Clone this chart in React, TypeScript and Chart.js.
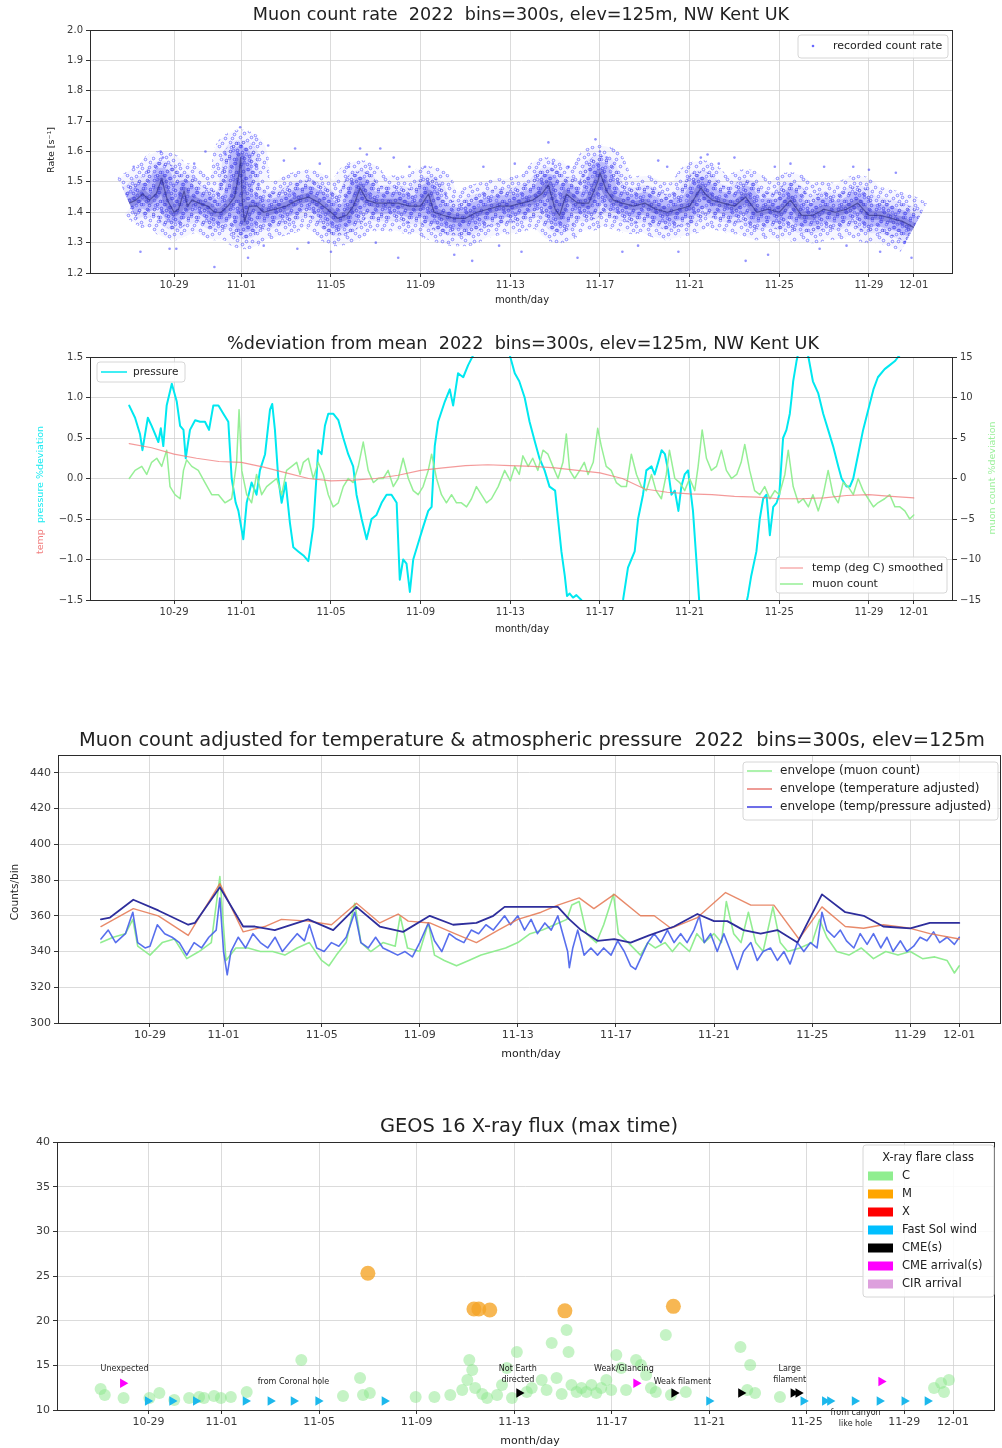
import React, { useEffect, useRef } from "react";
import { Chart, registerables } from "chart.js";

Chart.register(...registerables);

const FONT = "'DejaVu Sans', Verdana, sans-serif";
const TICK_COLOR = "#3a3a3a";
const GRID_COLOR = "#d2d2d2";

type Pair = [number, number];

// ---------- shared date axis (day 0 = 10-27 00:00) ----------
const DATE_TICK_DAYS = [2, 5, 9, 13, 17, 21, 25, 29, 33, 35];
const DATE_TICK_LABELS = ["10-29", "11-01", "11-05", "11-09", "11-13", "11-17", "11-21", "11-25", "11-29", "12-01"];

// ---------- value axes ----------
const RATE_TICKS = [1.2, 1.3, 1.4, 1.5, 1.6, 1.7, 1.8, 1.9, 2.0];
const RATE_LABELS = ["1.2", "1.3", "1.4", "1.5", "1.6", "1.7", "1.8", "1.9", "2.0"];
const DEV_TICKS = [-1.5, -1.0, -0.5, 0, 0.5, 1.0, 1.5];
const DEV_LABELS = ["\u22121.5", "\u22121.0", "\u22120.5", "0.0", "0.5", "1.0", "1.5"];
const DEV_R_TICKS = [-15, -10, -5, 0, 5, 10, 15];
const DEV_R_LABELS = ["\u221215", "\u221210", "\u22125", "0", "5", "10", "15"];
const COUNT_TICKS = [300, 320, 340, 360, 380, 400, 420, 440];
const COUNT_LABELS = ["300", "320", "340", "360", "380", "400", "420", "440"];
const FLUX_TICKS = [10, 15, 20, 25, 30, 35, 40];
const FLUX_LABELS = ["10", "15", "20", "25", "30", "35", "40"];

// ---------- panel 1: recorded count rate ----------
const RATE_CORE: Pair[] = [[0,1.43],[0.3,1.44],[0.6,1.46],[0.9,1.44],[1.2,1.46],[1.45,1.51],[1.7,1.44],[2.0,1.40],[2.2,1.41],[2.45,1.47],[2.6,1.42],[2.8,1.44],[3.1,1.43],[3.5,1.42],[3.8,1.40],[4.1,1.40],[4.4,1.42],[4.7,1.45],[4.9,1.53],[4.97,1.58],[5.05,1.43],[5.15,1.37],[5.35,1.42],[5.7,1.42],[6.0,1.40],[6.5,1.41],[7.0,1.42],[7.5,1.44],[8.0,1.45],[8.5,1.43],[9.0,1.40],[9.3,1.38],[9.7,1.39],[10.0,1.42],[10.3,1.48],[10.6,1.44],[11.0,1.43],[11.5,1.43],[12.0,1.43],[12.5,1.42],[13.0,1.42],[13.35,1.46],[13.6,1.40],[14.0,1.39],[14.5,1.38],[15.0,1.38],[15.5,1.40],[16.0,1.41],[16.5,1.42],[17.0,1.42],[17.5,1.43],[18.0,1.44],[18.4,1.46],[18.7,1.49],[19.0,1.41],[19.2,1.39],[19.5,1.46],[20.0,1.43],[20.5,1.43],[20.9,1.50],[21.0,1.53],[21.3,1.47],[21.6,1.44],[22.0,1.43],[22.5,1.42],[23.0,1.43],[23.5,1.41],[24.0,1.40],[24.5,1.41],[25.0,1.42],[25.5,1.48],[25.7,1.46],[26.0,1.44],[26.5,1.43],[27.0,1.42],[27.5,1.45],[28.0,1.40],[28.5,1.41],[29.0,1.40],[29.5,1.44],[30.0,1.39],[30.5,1.39],[31.0,1.41],[31.5,1.40],[32.0,1.41],[32.5,1.43],[33.0,1.39],[33.5,1.39],[34.0,1.38],[34.5,1.37],[35.0,1.35]];
const RATE_OUTLIERS: Pair[] = [[1.4,1.60],[1.5,1.58],[3.4,1.60],[4.3,1.59],[4.95,1.68],[5.0,1.62],[5.3,1.25],[6.2,1.62],[6.9,1.57],[7.4,1.61],[8.5,1.56],[10.3,1.61],[10.6,1.59],[11.2,1.61],[11.8,1.58],[12.5,1.55],[13.2,1.55],[3.8,1.22],[2.1,1.28],[0.5,1.27],[1.8,1.28],[7.5,1.28],[9.0,1.27],[12.0,1.25],[14.5,1.26],[15.3,1.24],[18.7,1.63],[18.9,1.56],[20.8,1.64],[21.0,1.60],[21.3,1.58],[23.6,1.57],[25.5,1.58],[25.8,1.59],[27.0,1.58],[29.5,1.56],[31.0,1.55],[32.3,1.55],[16.5,1.29],[17.5,1.27],[20.0,1.25],[22.0,1.27],[24.5,1.27],[27.5,1.24],[28.5,1.26],[30.8,1.28],[32.0,1.29],[33.5,1.27],[34.6,1.30],[34.9,1.25],[22.7,1.29],[11.0,1.30],[6.0,1.29],[8.0,1.30],[0.2,1.55],[2.9,1.56],[9.8,1.55],[15.8,1.55],[17.2,1.56],[19.6,1.55],[24.0,1.55],[26.3,1.56],[28.8,1.55],[33.0,1.54],[34.2,1.53]];

// ---------- panel 2: % deviation ----------
const PRESSURE_DEV: Pair[] = [[0.0,0.9],[0.26,0.75],[0.48,0.55],[0.59,0.35],[0.71,0.55],[0.83,0.75],[1.0,0.65],[1.15,0.55],[1.3,0.45],[1.41,0.62],[1.52,0.4],[1.67,0.9],[1.9,1.17],[2.12,0.95],[2.27,0.65],[2.42,0.6],[2.52,0.25],[2.71,0.6],[2.94,0.72],[3.16,0.7],[3.38,0.7],[3.56,0.6],[3.75,0.9],[3.98,0.9],[4.2,0.8],[4.42,0.7],[4.57,0.0],[4.75,-0.3],[4.87,-0.4],[5.09,-0.75],[5.24,-0.3],[5.46,-0.05],[5.68,-0.2],[5.83,0.1],[6.06,0.3],[6.28,0.85],[6.38,0.92],[6.5,0.6],[6.65,0.0],[6.8,-0.3],[6.98,-0.05],[7.17,-0.55],[7.32,-0.85],[7.54,-0.9],[7.77,-0.95],[7.99,-1.02],[8.21,-0.6],[8.43,0.35],[8.58,0.3],[8.73,0.65],[8.88,0.8],[9.1,0.8],[9.33,0.72],[9.55,0.5],[9.77,0.3],[9.99,0.15],[10.14,-0.2],[10.37,-0.5],[10.59,-0.75],[10.81,-0.5],[11.03,-0.45],[11.26,-0.3],[11.48,-0.2],[11.7,-0.2],[11.93,-0.3],[12.07,-1.25],[12.22,-1.0],[12.37,-1.05],[12.52,-1.4],[12.67,-1.0],[12.89,-0.8],[13.11,-0.6],[13.34,-0.4],[13.49,-0.35],[13.63,0.4],[13.78,0.7],[14.08,0.95],[14.3,1.1],[14.45,0.9],[14.67,1.3],[14.9,1.25],[15.12,1.4],[15.34,1.52],[16.0,1.8],[16.6,1.8],[17.0,1.5],[17.2,1.3],[17.4,1.2],[17.64,1.0],[17.86,0.7],[18.1,0.45],[18.3,0.25],[18.53,0.1],[18.75,-0.1],[19.0,-0.15],[19.13,-0.5],[19.28,-0.9],[19.43,-1.2],[19.53,-1.45],[19.65,-1.42],[19.8,-1.47],[19.95,-1.44],[20.17,-1.5],[20.4,-1.8],[21.0,-2.2],[21.6,-1.9],[22.03,-1.5],[22.25,-1.1],[22.4,-1.0],[22.55,-0.9],[22.7,-0.5],[22.92,-0.2],[23.07,0.1],[23.3,0.15],[23.44,0.05],[23.6,0.2],[23.75,0.35],[23.9,0.3],[24.04,0.1],[24.19,-0.2],[24.34,-0.15],[24.5,-0.4],[24.63,-0.1],[24.78,0.05],[24.93,0.1],[25.15,-0.4],[25.3,-1.0],[25.45,-1.6],[26.0,-2.3],[27.0,-2.2],[27.6,-1.45],[27.75,-1.2],[27.98,-0.9],[28.13,-0.5],[28.28,-0.25],[28.43,-0.2],[28.58,-0.7],[28.73,-0.35],[28.88,-0.3],[29.0,-0.2],[29.17,0.5],[29.32,0.6],[29.47,0.8],[29.55,1.0],[29.62,1.2],[29.77,1.45],[29.85,1.55],[30.05,1.7],[30.3,1.5],[30.5,1.2],[30.74,1.05],[30.96,0.8],[31.18,0.6],[31.4,0.4],[31.63,0.15],[31.78,0.0],[32.0,-0.1],[32.15,-0.1],[32.3,0.0],[32.52,0.3],[32.74,0.6],[32.97,0.85],[33.2,1.1],[33.4,1.25],[33.7,1.35],[33.93,1.4],[34.16,1.45],[34.3,1.5],[35.0,1.7]];
const TEMP_SMOOTHED: Pair[] = [[0,4.3],[1,3.8],[2,3.0],[3,2.5],[4,2.1],[5,2.0],[6,1.4],[7,0.7],[8,0.0],[9,-0.3],[10,-0.2],[11,0.0],[12,0.4],[13,1.0],[14,1.3],[15,1.6],[16,1.7],[17,1.6],[18,1.5],[19,1.3],[20,1.0],[21,0.7],[22,0.0],[23,-1.3],[24,-1.7],[25,-1.9],[26,-2.0],[27,-2.2],[28,-2.3],[29,-2.5],[30,-2.5],[31,-2.4],[32,-2.1],[33,-2.0],[34,-2.2],[35,-2.4]];
const MUON_DEV: Pair[] = [[0.0,0.0],[0.26,1.0],[0.56,1.5],[0.78,0.5],[1.0,2.0],[1.23,2.5],[1.45,1.5],[1.67,3.5],[1.82,-1.0],[2.04,-2.0],[2.27,-2.5],[2.42,1.0],[2.56,2.3],[2.79,1.5],[3.08,1.0],[3.38,-0.5],[3.68,-2.0],[3.98,-2.0],[4.27,-3.0],[4.57,-2.5],[4.79,2.0],[4.9,8.5],[5.02,1.0],[5.24,-2.0],[5.46,-3.0],[5.68,0.5],[5.91,-2.0],[6.13,-1.0],[6.35,-0.5],[6.58,0.0],[6.8,-2.0],[7.02,1.0],[7.25,1.5],[7.47,2.0],[7.62,0.5],[7.77,2.0],[7.99,2.5],[8.21,0.0],[8.43,2.0],[8.66,0.5],[8.88,-2.0],[9.1,-3.5],[9.33,-3.0],[9.55,-1.0],[9.77,0.0],[9.99,-0.5],[10.22,1.5],[10.44,4.5],[10.66,1.0],[10.89,-0.5],[11.11,0.0],[11.33,0.0],[11.55,1.0],[11.78,-1.0],[12.0,0.0],[12.22,2.5],[12.45,0.0],[12.67,-1.5],[12.89,-2.0],[13.11,-1.0],[13.34,1.0],[13.49,3.0],[13.71,0.0],[13.93,-2.0],[14.15,-3.0],[14.38,-2.0],[14.6,-3.0],[14.82,-3.0],[15.05,-3.5],[15.27,-2.5],[15.49,-1.0],[15.71,-2.0],[15.94,-3.0],[16.16,-2.5],[16.46,-1.0],[16.75,1.0],[17.0,-0.3],[17.2,1.5],[17.4,0.5],[17.56,2.8],[17.8,1.5],[18.0,2.5],[18.23,1.0],[18.46,3.5],[18.68,3.0],[18.9,1.5],[19.13,0.0],[19.35,2.0],[19.5,5.5],[19.65,1.0],[19.87,0.0],[20.1,1.0],[20.3,2.0],[20.47,0.5],[20.7,2.0],[20.9,6.2],[21.06,4.0],[21.28,1.5],[21.5,1.0],[21.73,-0.5],[21.96,-1.0],[22.18,-1.0],[22.4,3.0],[22.63,0.5],[22.85,-1.0],[23.07,-1.5],[23.3,0.5],[23.5,-1.5],[23.74,-2.5],[23.96,0.5],[24.1,3.5],[24.34,0.0],[24.56,-0.5],[24.78,-1.5],[25.0,0.0],[25.23,-1.5],[25.38,1.5],[25.56,6.0],[25.75,2.5],[25.97,1.0],[26.2,1.5],[26.42,3.5],[26.64,1.0],[26.87,0.0],[27.1,0.5],[27.3,2.0],[27.46,4.2],[27.68,1.0],[27.9,-1.5],[28.13,-2.0],[28.35,-1.0],[28.58,-2.5],[28.8,-1.5],[29.0,-2.0],[29.25,0.5],[29.4,3.5],[29.62,-1.0],[29.85,-3.0],[30.07,-2.5],[30.3,-3.5],[30.5,-2.0],[30.74,-4.0],[30.96,-2.0],[31.18,1.0],[31.4,-2.0],[31.63,-3.0],[31.85,-0.5],[32.07,-1.0],[32.3,-2.0],[32.52,0.0],[32.74,-1.5],[32.97,-2.5],[33.2,-3.5],[33.4,-3.0],[33.7,-2.5],[33.93,-2.0],[34.16,-3.5],[34.38,-3.5],[34.6,-4.0],[34.82,-5.0],[35.0,-4.5]];

// ---------- panel 3: adjusted counts ----------
const MUON_COUNTS: Pair[] = [[0,345],[0.5,348],[1.0,350],[1.3,358],[1.5,343],[2.0,338],[2.5,345],[3.0,347],[3.5,336],[4.0,340],[4.5,345],[4.85,382],[5.1,335],[5.5,342],[6.0,342],[6.5,340],[7.0,340],[7.5,338],[8.0,342],[8.5,345],[9.0,335],[9.3,332],[9.6,338],[10.0,345],[10.35,367],[10.6,345],[11.0,340],[11.5,345],[12.0,343],[12.2,360],[12.5,342],[13.0,340],[13.35,356],[13.6,338],[14.0,335],[14.5,332],[15.0,335],[15.5,338],[16.0,340],[16.5,342],[17.0,345],[17.5,350],[18.0,352],[18.5,355],[19.0,358],[19.2,366],[19.5,368],[19.8,350],[20.2,345],[20.5,355],[20.9,372],[21.1,350],[21.5,345],[22.0,338],[22.3,345],[22.6,342],[23.0,345],[23.3,340],[23.6,345],[24.0,340],[24.3,350],[24.6,345],[25.0,350],[25.3,345],[25.5,368],[25.8,350],[26.1,345],[26.4,362],[26.7,345],[27.0,340],[27.4,365],[27.7,345],[28.0,340],[28.5,342],[29.0,345],[29.3,358],[29.6,348],[30.0,340],[30.5,338],[31.0,342],[31.5,336],[32.0,340],[32.5,338],[33.0,340],[33.5,336],[34.0,337],[34.5,335],[34.8,328],[35.0,332]];
const TP_ADJUSTED: Pair[] = [[0,347],[0.3,352],[0.6,345],[1.0,350],[1.3,362],[1.5,345],[1.8,342],[2.0,343],[2.3,355],[2.6,350],[2.9,348],[3.2,345],[3.5,338],[3.8,345],[4.1,342],[4.4,348],[4.7,352],[4.85,370],[5.0,340],[5.15,327],[5.3,340],[5.6,348],[5.9,342],[6.2,350],[6.5,345],[6.8,342],[7.1,348],[7.4,340],[7.7,345],[8.0,350],[8.3,346],[8.5,355],[8.8,342],[9.1,340],[9.4,345],[9.7,343],[10.0,348],[10.35,362],[10.6,345],[10.9,342],[11.2,348],[11.5,342],[11.8,340],[12.1,338],[12.4,340],[12.7,337],[13.0,345],[13.35,356],[13.6,346],[13.9,340],[14.2,350],[14.5,347],[14.8,345],[15.1,352],[15.4,350],[15.7,355],[16.0,352],[16.46,360],[16.7,355],[17.0,360],[17.27,352],[17.54,358],[17.8,350],[18.1,356],[18.36,352],[18.63,360],[18.83,350],[19.03,340],[19.1,331],[19.24,342],[19.44,352],[19.58,345],[19.7,338],[19.98,342],[20.25,338],[20.5,342],[20.8,338],[21.07,346],[21.34,340],[21.6,332],[21.8,330],[22.0,336],[22.3,345],[22.56,350],[22.83,345],[23.1,352],[23.37,345],[23.64,350],[23.9,345],[24.18,352],[24.4,360],[24.6,345],[24.86,350],[25.13,340],[25.4,350],[25.68,340],[25.95,330],[26.2,340],[26.5,345],[26.76,335],[27.0,340],[27.3,342],[27.58,335],[27.85,340],[28.1,333],[28.4,345],[28.66,340],[28.93,345],[29.2,342],[29.4,362],[29.6,352],[29.9,348],[30.15,352],[30.4,346],[30.7,342],[30.96,350],[31.24,344],[31.5,350],[31.8,342],[32.05,348],[32.3,340],[32.6,346],[32.86,340],[33.14,343],[33.4,348],[33.68,346],[33.95,351],[34.2,345],[34.5,348],[34.8,344],[35.0,348]];
const ENVELOPE_TEMP: Pair[] = [[0,354],[1.32,364],[2.34,360],[3.56,349],[4.85,378],[5.8,351],[6.68,354],[7.36,358],[8.45,357],[9.4,355],[10.42,367],[11.37,356],[12.12,361],[12.53,357],[13.41,356],[14.43,350],[15.31,345],[16.2,352],[17.0,358],[17.95,362],[18.63,366],[19.5,370],[20.1,364],[20.93,372],[22.0,360],[22.56,360],[23.24,353],[24.32,359],[25.47,373],[26.5,366],[27.44,366],[28.46,347],[29.4,365],[30.35,354],[31.1,353],[31.9,355],[33.0,353],[33.8,350],[35.0,347]];
const ENVELOPE_TP: Pair[] = [[0,358],[0.37,359],[1.32,369],[2.34,363],[3.56,355],[3.83,356],[4.85,376],[5.8,354],[6.28,354],[7.09,352],[8.45,358],[9.47,352],[10.42,365],[11.37,354],[12.32,351],[13.41,360],[14.36,355],[15.31,356],[16.0,360],[16.46,365],[17.0,365],[17.54,365],[18.63,365],[19.1,358],[19.58,352],[20.25,346],[20.93,347],[21.6,345],[22.35,349],[23.37,354],[24.32,361],[25.0,357],[25.54,357],[26.2,352],[26.9,350],[27.58,352],[28.4,345],[29.4,372],[30.35,362],[31.1,360],[31.9,354],[33.0,353],[33.8,356],[35.0,356]];

// ---------- panel 4: GOES X-ray flux and solar events ----------
const C_FLARES: Pair[] = [[0.04,12.35],[0.21,11.68],[0.98,11.34],[2.04,11.34],[2.45,11.9],[3.06,11.12],[3.67,11.34],[4.08,11.46],[4.28,11.34],[4.69,11.57],[4.97,11.34],[5.38,11.46],[6.03,12.02],[8.27,15.6],[9.98,11.57],[10.68,13.58],[10.8,11.68],[11.08,11.9],[12.96,11.46],[13.73,11.46],[14.38,11.68],[14.87,12.24],[15.08,13.36],[15.16,15.6],[15.28,14.48],[15.4,12.46],[15.69,11.79],[15.89,11.34],[16.3,11.68],[16.5,12.8],[16.7,14.7],[16.91,11.34],[17.11,16.5],[17.52,12.02],[17.72,12.46],[18.13,13.36],[18.33,12.24],[18.54,17.5],[18.74,13.58],[18.95,11.79],[19.15,18.96],[19.23,16.5],[19.35,12.8],[19.56,12.02],[19.76,12.46],[19.96,12.02],[20.17,12.8],[20.37,11.9],[20.57,12.46],[20.78,13.36],[20.98,12.24],[21.19,16.16],[21.39,14.7],[21.59,12.24],[22.0,15.6],[22.2,15.04],[22.41,13.92],[22.61,12.46],[22.81,12.02],[23.22,18.4],[23.43,11.68],[24.04,12.02],[26.28,17.05],[26.68,15.04],[26.56,12.24],[26.88,11.9],[27.9,11.46],[34.22,12.46],[34.51,13.02],[34.63,12.02],[34.83,13.36]];
const M_FLARES: Pair[] = [[11.0,25.3],[15.35,21.3],[15.55,21.3],[16.0,21.2],[19.08,21.1],[23.53,21.6]];
const FAST_WIND: Pair[] = [[1.97,11.0],[2.97,11.0],[3.94,11.0],[5.98,11.0],[7.0,11.0],[7.95,11.0],[8.96,11.0],[11.68,11.0],[24.99,11.0],[28.86,11.0],[29.74,11.0],[29.95,11.0],[30.96,11.0],[31.98,11.0],[33.0,11.0],[33.95,11.0]];
const CMES: Pair[] = [[17.2,11.9],[23.56,11.9],[26.3,11.9],[28.45,11.9],[28.65,11.9]];
const CME_ARRIVALS: Pair[] = [[0.95,13.0],[22.0,13.0],[32.05,13.2]];
const EVENT_NOTES: { day: number; val: number; text: string }[] = [
  { day: 1.02, val: 14.6, text: "Unexpected" },
  { day: 7.95, val: 13.1, text: "from Coronal hole" },
  { day: 17.15, val: 14.6, text: "Not Earth" },
  { day: 17.15, val: 13.4, text: "directed" },
  { day: 21.5, val: 14.6, text: "Weak/Glancing" },
  { day: 23.9, val: 13.1, text: "Weak filament" },
  { day: 28.3, val: 14.6, text: "Large" },
  { day: 28.3, val: 13.4, text: "filament" },
  { day: 31.0, val: 9.62, text: "from canyon" },
  { day: 31.0, val: 8.45, text: "like hole" },
];

// speckle texture tile for the scatter cloud (style only)
const SPECKLE_TILE: Pair[] = [[3,2],[17,4],[29,1],[9,8],[24,9],[34,7],[1,13],[14,12],[21,15],[31,14],[6,18],[27,19],[12,21],[35,22],[19,24],[2,26],[25,27],[10,27],[32,27],[16,17],[5,5],[22,2],[28,23],[8,14],[36,17],[13,1],[18,9],[30,10],[4,22],[23,21]];

// ---------- helpers ----------
const pts = (a: Pair[]) => a.map(([x, y]) => ({ x, y }));

function speckle(dots: Pair[], color: string, flip: boolean): any {
  const c = document.createElement("canvas");
  c.width = 38;
  c.height = 29;
  const g = c.getContext("2d") as CanvasRenderingContext2D;
  g.strokeStyle = color;
  g.lineWidth = 0.9;
  for (const [x, y] of dots) {
    const px = flip ? 37 - x : x;
    const py = flip ? 28 - y : y;
    g.beginPath();
    g.arc(px + 0.5, py + 0.5, 1.3, 0, Math.PI * 2);
    g.stroke();
  }
  return g.createPattern(c, "repeat");
}

function dateAxis(min: number, max: number, height: number, size: number): any {
  return {
    type: "linear", position: "bottom", min, max,
    afterBuildTicks: (s: any) => { s.ticks = DATE_TICK_DAYS.map((v) => ({ value: v })); },
    afterFit: (s: any) => { s.height = height; },
    ticks: { autoSkip: false, maxRotation: 0, minRotation: 0, padding: 2, color: TICK_COLOR, font: { family: FONT, size }, callback: (_v: any, i: number) => DATE_TICK_LABELS[i] },
    grid: { color: GRID_COLOR, lineWidth: 0.8, tickLength: 4, tickColor: "#333", tickWidth: 1 },
    border: { display: false },
  };
}

function valueAxis(position: string, min: number, max: number, values: number[], labels: string[], width: number, size: number, grid: boolean): any {
  return {
    type: "linear", position, min, max,
    afterBuildTicks: (s: any) => { s.ticks = values.map((v) => ({ value: v })); },
    afterFit: (s: any) => { s.width = width; },
    ticks: { autoSkip: false, padding: 3, color: TICK_COLOR, font: { family: FONT, size }, callback: (_v: any, i: number) => labels[i] },
    grid: { drawOnChartArea: grid, color: GRID_COLOR, lineWidth: 0.8, tickLength: 4, tickColor: "#333", tickWidth: 1 },
    border: { display: false },
  };
}

type Txt = { t: string; x: number; y: number; size: number; color?: string; align?: CanvasTextAlign; rot?: boolean };

function decor(id: string, texts: Txt[], extra?: (chart: any) => void) {
  return {
    id,
    afterDraw(chart: any) {
      const { ctx, chartArea: a } = chart;
      ctx.save();
      ctx.strokeStyle = "#2b2b2b";
      ctx.lineWidth = 1;
      ctx.strokeRect(Math.round(a.left) + 0.5, Math.round(a.top) + 0.5, Math.round(a.right - a.left) - 1, Math.round(a.bottom - a.top));
      ctx.textBaseline = "middle";
      for (const it of texts) {
        ctx.font = `${it.size}px ${FONT}`;
        ctx.fillStyle = it.color || "#222";
        ctx.textAlign = it.align || "center";
        if (it.rot) {
          ctx.save();
          ctx.translate(it.x, it.y);
          ctx.rotate(-Math.PI / 2);
          ctx.fillText(it.t, 0, 0);
          ctx.restore();
        } else ctx.fillText(it.t, it.x, it.y);
      }
      if (extra) extra(chart);
      ctx.restore();
    },
  };
}

type LegItem = { label: string; kind: "line" | "dot" | "patch"; color: string; y: number; lw?: number };
function drawLegend(ctx: CanvasRenderingContext2D, box: { x: number; y: number; w: number; h: number }, items: LegItem[], symX: number, symW: number, textX: number, size: number, title?: { t: string; x: number; y: number }) {
  ctx.save();
  ctx.beginPath();
  const r = 3;
  const { x, y, w, h } = box;
  ctx.moveTo(x + r, y);
  ctx.arcTo(x + w, y, x + w, y + h, r);
  ctx.arcTo(x + w, y + h, x, y + h, r);
  ctx.arcTo(x, y + h, x, y, r);
  ctx.arcTo(x, y, x + w, y, r);
  ctx.closePath();
  ctx.fillStyle = "rgba(255,255,255,0.85)";
  ctx.fill();
  ctx.strokeStyle = "#d6d6d6";
  ctx.lineWidth = 1;
  ctx.stroke();
  ctx.font = `${size}px ${FONT}`;
  ctx.textBaseline = "middle";
  if (title) {
    ctx.fillStyle = "#222";
    ctx.textAlign = "center";
    ctx.fillText(title.t, title.x, title.y);
  }
  for (const it of items) {
    if (it.kind === "line") {
      ctx.strokeStyle = it.color;
      ctx.lineWidth = it.lw || 1.5;
      ctx.beginPath();
      ctx.moveTo(symX, it.y);
      ctx.lineTo(symX + symW, it.y);
      ctx.stroke();
    } else if (it.kind === "dot") {
      ctx.fillStyle = it.color;
      ctx.beginPath();
      ctx.arc(symX + symW / 2, it.y, 1.3, 0, Math.PI * 2);
      ctx.fill();
    } else {
      ctx.fillStyle = it.color;
      ctx.fillRect(symX, it.y - 4.5, symW, 9);
    }
    ctx.fillStyle = "#222";
    ctx.textAlign = "left";
    ctx.fillText(it.label, textX, it.y);
  }
  ctx.restore();
}

const baseOptions = (padding: any, scales: any): any => ({
  animation: false,
  responsive: false,
  devicePixelRatio: 1,
  events: [],
  layout: { padding },
  plugins: { legend: { display: false }, tooltip: { enabled: false }, title: { display: false } },
  scales,
});

const lineDs = (data: Pair[], color: any, width: number, extra: any = {}) => ({
  data: pts(data), showLine: true, borderColor: color, backgroundColor: color, borderWidth: width,
  pointRadius: 0, borderJoinStyle: "round", borderCapStyle: "round", clip: 0, ...extra,
});

// ---------- panel configs ----------
function panel1(): any {
  const outer = speckle(SPECKLE_TILE, "rgba(70,70,255,0.65)", false);
  const mid = speckle(SPECKLE_TILE, "rgba(50,50,225,0.8)", true);
  const butt = { borderCapStyle: "butt" };
  return {
    type: "scatter",
    data: {
      datasets: [
        { data: pts(RATE_OUTLIERS), pointRadius: 1.3, pointBorderWidth: 0, pointBackgroundColor: "rgba(40,40,255,0.5)", showLine: false },
        lineDs(RATE_CORE, "rgba(40,40,120,0.6)", 1.2, butt),
        lineDs(RATE_CORE, "rgba(55,55,190,0.35)", 9, butt),
        lineDs(RATE_CORE, "rgba(80,80,240,0.28)", 22, butt),
        lineDs(RATE_CORE, mid, 34, butt),
        lineDs(RATE_CORE, "rgba(110,110,255,0.12)", 36, butt),
        lineDs(RATE_CORE, outer, 56, butt),
        lineDs(RATE_CORE, "rgba(130,130,255,0.07)", 54, butt),
      ],
    },
    options: baseOptions({ top: 30, left: 0, right: 49, bottom: 17 }, {
      x: dateAxis(-1.75, 36.75, 30, 10),
      y: valueAxis("left", 1.2, 2.0, RATE_TICKS, RATE_LABELS, 90, 10, true),
    }),
    plugins: [decor("d1", [
      { t: "Muon count rate  2022  bins=300s, elev=125m, NW Kent UK", x: 521, y: 15, size: 17.6 },
      { t: "Rate [s\u207B\u00B9]", x: 52, y: 150, size: 9.5, rot: true },
      { t: "month/day", x: 522, y: 300, size: 10 },
    ], (chart) => {
      drawLegend(chart.ctx, { x: 798, y: 35, w: 150, h: 23 }, [
        { label: "recorded count rate", kind: "dot", color: "rgba(40,40,255,0.7)", y: 46 },
      ], 806, 14, 833, 11);
    })],
  };
}

function panel2(): any {
  return {
    type: "scatter",
    data: {
      datasets: [
        lineDs(TEMP_SMOOTHED, "rgba(240,120,120,0.75)", 1.2, { yAxisID: "y2" }),
        lineDs(MUON_DEV, "rgba(144,238,144,0.95)", 1.5, { yAxisID: "y2" }),
        lineDs(PRESSURE_DEV, "#00e8f0", 2, { yAxisID: "y", clip: 1 }),
      ],
    },
    options: baseOptions({ top: 29, left: 0, right: 0, bottom: 12 }, {
      x: dateAxis(-1.75, 36.75, 28, 10),
      y: valueAxis("left", -1.5, 1.5, DEV_TICKS, DEV_LABELS, 90, 10, true),
      y2: valueAxis("right", -15, 15, DEV_R_TICKS, DEV_R_LABELS, 49, 10, false),
    }),
    plugins: [decor("d2", [
      { t: "%deviation from mean  2022  bins=300s, elev=125m, NW Kent UK", x: 523, y: 16, size: 17.6 },
      { t: "muon count %deviation", x: 993, y: 150, size: 9.5, color: "rgba(144,238,144,0.9)", rot: true },
      { t: "month/day", x: 522, y: 301, size: 10 },
    ], (chart) => {
      const ctx = chart.ctx;
      ctx.save();
      ctx.translate(41, 226);
      ctx.rotate(-Math.PI / 2);
      ctx.font = `9.5px ${FONT}`;
      ctx.textAlign = "left";
      ctx.textBaseline = "middle";
      ctx.fillStyle = "rgba(240,110,110,0.9)";
      ctx.fillText("temp", 0, 0);
      ctx.fillStyle = "rgba(0,232,240,0.9)";
      ctx.fillText("pressure %deviation", ctx.measureText("temp  ").width, 0);
      ctx.restore();
      drawLegend(ctx, { x: 97, y: 34, w: 88, h: 20 }, [
        { label: "pressure", kind: "line", color: "#00e8f0", y: 44 },
      ], 101, 26, 133, 10.5);
      drawLegend(ctx, { x: 776, y: 229, w: 171, h: 36 }, [
        { label: "temp (deg C) smoothed", kind: "line", color: "rgba(240,120,120,0.75)", y: 240, lw: 1.2 },
        { label: "muon count", kind: "line", color: "rgba(144,238,144,0.95)", y: 256 },
      ], 780, 23, 812, 11);
    })],
  };
}

function panel3(): any {
  return {
    type: "scatter",
    data: {
      datasets: [
        lineDs(ENVELOPE_TP, "#2e2e9c", 1.8),
        lineDs(ENVELOPE_TEMP, "rgba(228,118,80,0.85)", 1.4),
        lineDs(TP_ADJUSTED, "rgba(70,95,235,0.9)", 1.6),
        lineDs(MUON_COUNTS, "rgba(140,236,140,0.95)", 1.6),
      ],
    },
    options: baseOptions({ top: 30, left: 0, right: 1, bottom: 14 }, {
      x: dateAxis(-1.75, 36.7, 28, 11),
      y: valueAxis("left", 300, 450, COUNT_TICKS, COUNT_LABELS, 58, 11, true),
    }),
    plugins: [decor("d3", [
      { t: "Muon count adjusted for temperature & atmospheric pressure  2022  bins=300s, elev=125m", x: 532, y: 16, size: 19.4 },
      { t: "Counts/bin", x: 15, y: 167, size: 10.5, rot: true },
      { t: "month/day", x: 531, y: 329, size: 11 },
    ], (chart) => {
      drawLegend(chart.ctx, { x: 743, y: 37, w: 255, h: 58 }, [
        { label: "envelope (muon count)", kind: "line", color: "rgba(140,236,140,0.95)", y: 46 },
        { label: "envelope (temperature adjusted)", kind: "line", color: "rgba(228,100,90,0.85)", y: 64 },
        { label: "envelope (temp/pressure adjusted)", kind: "line", color: "#3c3ce0", y: 82 },
      ], 747, 25, 780, 12);
    })],
  };
}

function panel4(): any {
  const tri = (data: Pair[], color: string) => ({
    data: pts(data), showLine: false, pointStyle: "triangle", rotation: 90, pointRadius: 5.5,
    pointBackgroundColor: color, pointBorderColor: color, pointBorderWidth: 0, clip: false,
  });
  return {
    type: "scatter",
    data: {
      datasets: [
        tri(CMES, "#000000"),
        tri(CME_ARRIVALS, "#ff00ff"),
        tri(FAST_WIND, "#1cb8ec"),
        { data: pts(M_FLARES), showLine: false, pointRadius: 7.5, pointBorderWidth: 0, pointBackgroundColor: "rgba(245,165,40,0.8)" },
        { data: pts(C_FLARES), showLine: false, pointRadius: 6, pointBorderWidth: 0, pointBackgroundColor: "rgba(140,232,140,0.5)" },
      ],
    },
    options: baseOptions({ top: 34, left: 0, right: 1, bottom: 10 }, {
      x: dateAxis(-1.75, 36.7, 28, 11),
      y: valueAxis("left", 10, 40, FLUX_TICKS, FLUX_LABELS, 57, 11, true),
    }),
    plugins: [decor("d4", [
      { t: "GEOS 16 X-ray flux (max time)", x: 529, y: 19, size: 19.4 },
      { t: "month/day", x: 530, y: 333, size: 11 },
    ], (chart) => {
      const ctx = chart.ctx;
      const xs = chart.scales.x;
      const ys = chart.scales.y;
      ctx.save();
      ctx.font = `8px ${FONT}`;
      ctx.fillStyle = "#222";
      ctx.textAlign = "center";
      ctx.textBaseline = "middle";
      for (const n of EVENT_NOTES) ctx.fillText(n.text, xs.getPixelForValue(n.day), ys.getPixelForValue(n.val));
      ctx.restore();
      drawLegend(ctx, { x: 863, y: 37, w: 131, h: 152 }, [
        { label: "C", kind: "patch", color: "#90ee90", y: 68 },
        { label: "M", kind: "patch", color: "#ffa500", y: 86 },
        { label: "X", kind: "patch", color: "#ff0000", y: 104 },
        { label: "Fast Sol wind", kind: "patch", color: "#00bfff", y: 122 },
        { label: "CME(s)", kind: "patch", color: "#000000", y: 140 },
        { label: "CME arrival(s)", kind: "patch", color: "#ff00ff", y: 158 },
        { label: "CIR arrival", kind: "patch", color: "#dda0dd", y: 176 },
      ], 868, 25, 902, 11.5, { t: "X-ray flare class", x: 928, y: 50 });
    })],
  };
}

export default function App() {
  const r1 = useRef<HTMLCanvasElement>(null);
  const r2 = useRef<HTMLCanvasElement>(null);
  const r3 = useRef<HTMLCanvasElement>(null);
  const r4 = useRef<HTMLCanvasElement>(null);

  useEffect(() => {
    const charts = [
      new Chart(r1.current as HTMLCanvasElement, panel1()),
      new Chart(r2.current as HTMLCanvasElement, panel2()),
      new Chart(r3.current as HTMLCanvasElement, panel3()),
      new Chart(r4.current as HTMLCanvasElement, panel4()),
    ];
    return () => charts.forEach((c) => c.destroy());
  }, []);

  const cs = (top: number, h: number): React.CSSProperties => ({ position: "absolute", left: 0, top, width: 1002, height: h });
  return (
    <div style={{ position: "absolute", left: 0, top: 0, width: 1002, height: 1448, background: "#fff", overflow: "hidden" }}>
      <canvas ref={r1} width={1002} height={320} style={cs(0, 320)} />
      <canvas ref={r2} width={1002} height={312} style={cs(328, 312)} />
      <canvas ref={r3} width={1002} height={340} style={cs(725, 340)} />
      <canvas ref={r4} width={1002} height={340} style={cs(1108, 340)} />
    </div>
  );
}
